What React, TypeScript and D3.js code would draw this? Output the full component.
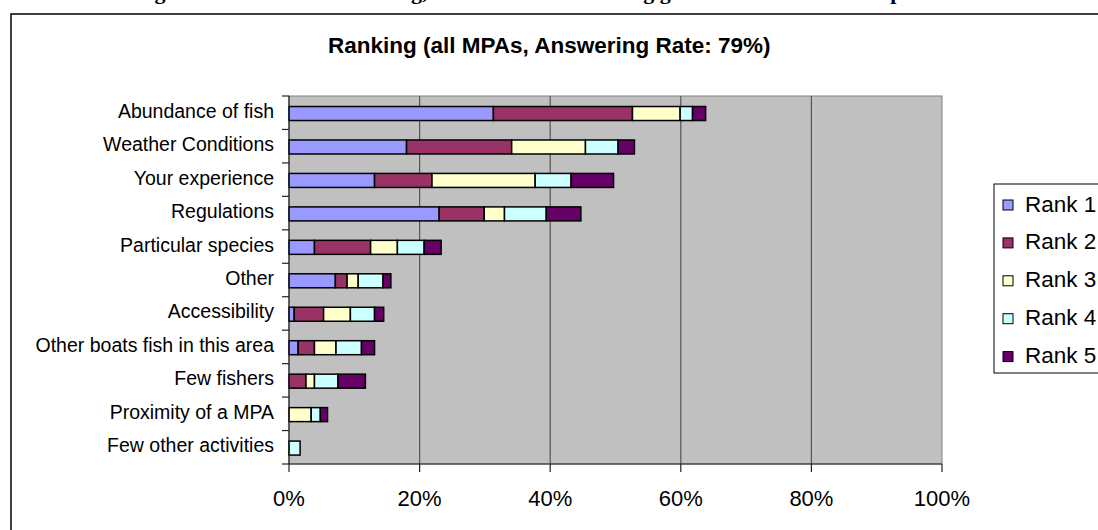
import React from "react";
import * as d3 from "d3";

const categories = [
  "Abundance of fish",
  "Weather Conditions",
  "Your experience",
  "Regulations",
  "Particular species",
  "Other",
  "Accessibility",
  "Other boats fish in this area",
  "Few fishers",
  "Proximity of a MPA",
  "Few other activities",
];
const seriesNames = ["Rank 1", "Rank 2", "Rank 3", "Rank 4", "Rank 5"];
const rank1 = [31.3, 18.0, 13.1, 23.0, 3.9, 7.1, 0.8, 1.4, 0, 0, 0];
const rank2 = [21.3, 16.1, 8.8, 6.9, 8.6, 1.8, 4.5, 2.5, 2.6, 0, 0];
const rank3 = [7.3, 11.3, 15.8, 3.1, 4.1, 1.7, 4.1, 3.3, 1.3, 3.4, 0];
const rank4 = [1.9, 5.0, 5.5, 6.4, 4.1, 3.8, 3.7, 3.9, 3.6, 1.4, 1.7];
const rank5 = [2.0, 2.5, 6.5, 5.3, 2.6, 1.2, 1.4, 2.0, 4.2, 1.1, 0];
const xTicks = [0, 20, 40, 60, 80, 100];
const colors = ["#9999FF", "#993366", "#FFFFCC", "#CCFFFF", "#660066"];
const title = "Ranking (all MPAs, Answering Rate: 79%)";
const caption =
  "Figure 4.4: Reasons for fishing, the choice of the fishing ground in the whole sample";

export default function App() {
  const W = 1098;
  const H = 530;
  const plot = { left: 289, right: 942, top: 96, bottom: 464 };
  const x = d3.scaleLinear().domain([0, 100]).range([plot.left, plot.right]);
  const y = d3.scaleBand<string>().domain(categories).range([plot.top, plot.bottom]);
  const bw = y.bandwidth();
  const barH = 14;

  const table = categories.map((c, i) => ({
    cat: c,
    "Rank 1": rank1[i],
    "Rank 2": rank2[i],
    "Rank 3": rank3[i],
    "Rank 4": rank4[i],
    "Rank 5": rank5[i],
  }));
  const stacked = d3.stack<any>().keys(seriesNames)(table);

  const font = "Arial, 'Liberation Sans', sans-serif";
  const boundaries = categories.map((c) => y(c) as number).concat([plot.bottom]);

  return (
    <svg
      width={W}
      height={H}
      style={{ position: "absolute", left: 0, top: 0, background: "#fff" }}
    >
      <text
        x={135}
        y={-1}
        fontFamily="'Liberation Serif', 'Times New Roman', serif"
        fontWeight="bold"
        fontSize={22}
        fill="#000"
      >
        {caption}
      </text>
      {/* outer chart frame */}
      <rect x={11} y={14} width={W + 20} height={H + 20} fill="#fff" stroke="#000" strokeWidth={1.5} />
      <text x={328} y={53} fontFamily={font} fontWeight="bold" fontSize={22.5} fill="#000">
        {title}
      </text>
      {/* plot area */}
      <rect
        x={plot.left}
        y={plot.top}
        width={plot.right - plot.left}
        height={plot.bottom - plot.top}
        fill="#C0C0C0"
        stroke="#808080"
        strokeWidth={1}
      />
      {xTicks.slice(1, -1).map((t) => (
        <line key={t} x1={x(t)} x2={x(t)} y1={plot.top} y2={plot.bottom} stroke="#555" strokeWidth={1.2} />
      ))}
      {/* bars */}
      {stacked.map((s, si) =>
        s.map((d, i) =>
          d[1] - d[0] > 0 ? (
            <rect
              key={si + "-" + i}
              x={x(d[0])}
              y={(y(categories[i]) as number) + bw / 2 - barH / 2 + 0.8}
              width={x(d[1]) - x(d[0])}
              height={barH}
              fill={colors[si]}
              stroke="#000"
              strokeWidth={1.5}
            />
          ) : null
        )
      )}
      {/* axes */}
      <line x1={plot.left} x2={plot.left} y1={plot.top} y2={plot.bottom} stroke="#222" strokeWidth={1.2} />
      <line x1={plot.left} x2={plot.right} y1={plot.bottom} y2={plot.bottom} stroke="#222" strokeWidth={1.2} />
      {boundaries.map((b, i) => (
        <line key={"yt" + i} x1={plot.left - 7} x2={plot.left} y1={b} y2={b} stroke="#222" strokeWidth={1.2} />
      ))}
      {xTicks.map((t) => (
        <line key={"xt" + t} x1={x(t)} x2={x(t)} y1={plot.bottom} y2={plot.bottom + 8} stroke="#222" strokeWidth={1.2} />
      ))}
      {categories.map((c) => (
        <text
          key={c}
          x={274}
          y={(y(c) as number) + bw / 2 + 5}
          textAnchor="end"
          fontFamily={font}
          fontSize={19.5}
          fill="#000"
        >
          {c}
        </text>
      ))}
      {xTicks.map((t) => (
        <text key={"xl" + t} x={x(t)} y={506} textAnchor="middle" fontFamily={font} fontSize={22} fill="#000">
          {t + "%"}
        </text>
      ))}
      {/* legend */}
      <rect x={994} y={184} width={130} height={189} fill="#fff" stroke="#000" strokeWidth={1} />
      {seriesNames.map((n, i) => (
        <g key={n}>
          <rect
            x={1003}
            y={200 + i * 37.9}
            width={10}
            height={10}
            fill={colors[i]}
            stroke="#000"
            strokeWidth={1}
          />
          <text x={1025} y={211.5 + i * 37.9} fontFamily={font} fontSize={22.5} fill="#000">
            {n}
          </text>
        </g>
      ))}
    </svg>
  );
}
